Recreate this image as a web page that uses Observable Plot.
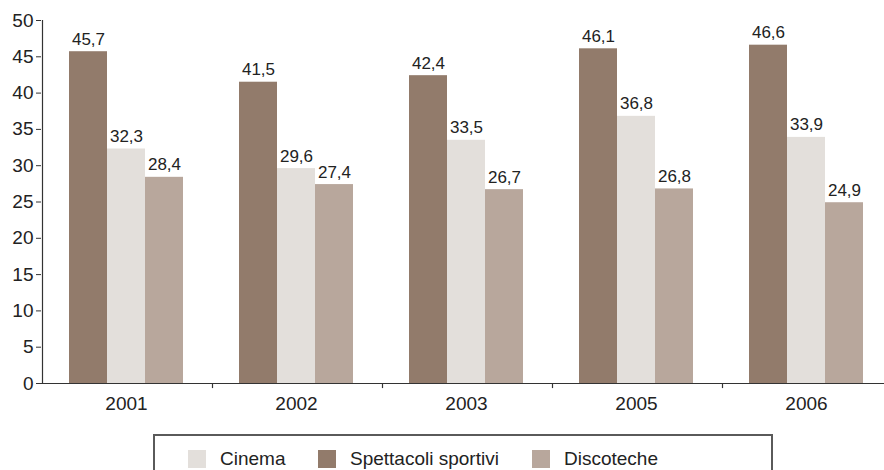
<!DOCTYPE html>
<html>
<head>
<meta charset="utf-8">
<script src="https://cdn.jsdelivr.net/npm/d3@7"></script>
<script src="https://cdn.jsdelivr.net/npm/@observablehq/plot@0.6"></script>
<style>
  body { margin: 0; background: #fff; font-family: "Liberation Sans", Arial, sans-serif; }
  #chart svg { display: block; }
  .legend { margin-left: 153px; margin-top: 9px; width: 620px; height: 50px; border: 2px solid #5a5a5a; box-sizing: border-box; position: relative; font-size: 19px; color: #222; }
  .legend .item { position: absolute; top: 12px; display: flex; align-items: center; }
  .legend .sw { width: 18px; height: 18px; margin-right: 14px; }
</style>
</head>
<body>
<div id="chart"></div>
<div class="legend" id="legend"></div>
<script>
const years = ["2001", "2002", "2003", "2005", "2006"];
const seriesOrder = ["Spettacoli sportivi", "Cinema", "Discoteche"];
const legendOrder = ["Cinema", "Spettacoli sportivi", "Discoteche"];
const cinema = [32.3, 29.6, 33.5, 36.8, 33.9];
const sportivi = [45.7, 41.5, 42.4, 46.1, 46.6];
const discoteche = [28.4, 27.4, 26.7, 26.8, 24.9];
const colors = ["#927b6b", "#e3dfdb", "#b8a79c"];
const yTicks = d3.range(0, 51, 5);

const rows = [];
years.forEach((y, i) => {
  rows.push({year: y, series: "Spettacoli sportivi", value: sportivi[i]});
  rows.push({year: y, series: "Cinema", value: cinema[i]});
  rows.push({year: y, series: "Discoteche", value: discoteche[i]});
});
const fmt = v => v.toFixed(1).replace(".", ",");

const chart = Plot.plot({
  width: 884,
  height: 425,
  marginLeft: 40,
  marginRight: -8,
  marginTop: 20,
  marginBottom: 42,
  style: {fontFamily: "Liberation Sans, Arial, sans-serif", fontSize: "17px", color: "#222", background: "#fff"},
  fx: {domain: years, padding: 0, label: null},
  x: {domain: seriesOrder, paddingInner: 0, paddingOuter: 0.7, axis: null},
  y: {domain: [0, 50], label: null},
  color: {domain: seriesOrder, range: colors},
  marks: [
    Plot.barY(rows, {fx: "year", x: "series", y: "value", fill: "series"}),
    Plot.text(rows, {fx: "year", x: "series", y: "value", text: d => fmt(d.value), lineAnchor: "bottom", dy: -7, fill: "#222", fontSize: 17}),
    Plot.axisY({ticks: yTicks, tickSize: 5, tickPadding: 3, tickFormat: d => d, fontSize: 19, label: null, stroke: "#333", color: "#222"}),
    Plot.axisFx({anchor: "bottom", tickSize: 0, tickPadding: 13, fontSize: 19, label: null, color: "#222"}),
    Plot.ruleY([0], {stroke: "#333", strokeWidth: 1.2}),
    Plot.ruleX(years.slice(0, 1), {fx: d => d, x: () => seriesOrder[0], dx: -46, y1: 0, y2: 50, stroke: "#333", strokeWidth: 1.2}),
    Plot.ruleX(years.slice(1), {fx: d => d, x: () => seriesOrder[0], dx: -46, y1: 0, y2: -0.7, stroke: "#333", strokeWidth: 1.2})
  ]
});
document.getElementById("chart").appendChild(chart);

const legend = document.getElementById("legend");
const positions = [33, 163, 377];
legendOrder.forEach((s, i) => {
  const it = document.createElement("div");
  it.className = "item";
  it.style.left = positions[i] + "px";
  const sw = document.createElement("div");
  sw.className = "sw";
  sw.style.background = colors[seriesOrder.indexOf(s)];
  const t = document.createElement("span");
  t.textContent = s;
  it.appendChild(sw);
  it.appendChild(t);
  legend.appendChild(it);
});
</script>
</body>
</html>
